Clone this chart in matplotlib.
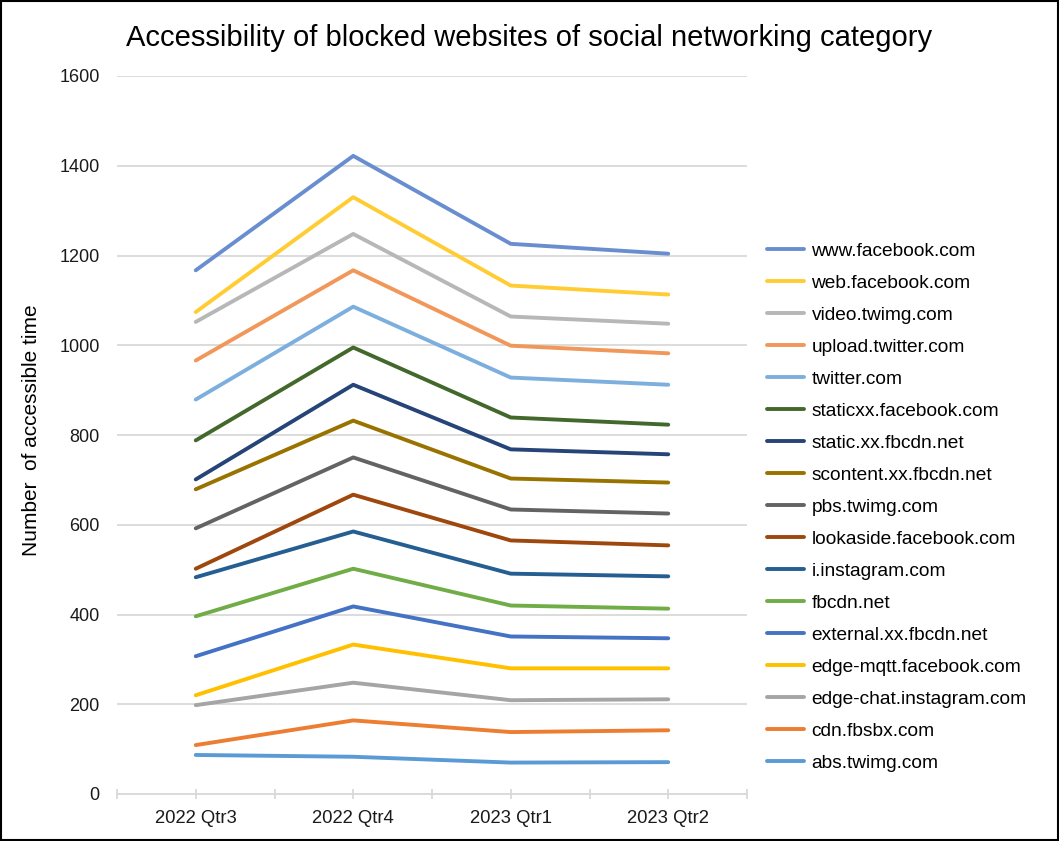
import matplotlib
matplotlib.use('Agg')
import matplotlib.pyplot as plt
from matplotlib.patches import Rectangle

plt.rcParams['font.family'] = ['Liberation Sans', 'DejaVu Sans']

quarters = ['2022 Qtr3', '2022 Qtr4', '2023 Qtr1', '2023 Qtr2']

sites = [
    'www.facebook.com', 'web.facebook.com', 'video.twimg.com', 'upload.twitter.com',
    'twitter.com', 'staticxx.facebook.com', 'static.xx.fbcdn.net', 'scontent.xx.fbcdn.net',
    'pbs.twimg.com', 'lookaside.facebook.com', 'i.instagram.com', 'fbcdn.net',
    'external.xx.fbcdn.net', 'edge-mqtt.facebook.com', 'edge-chat.instagram.com',
    'cdn.fbsbx.com', 'abs.twimg.com',
]

www_facebook = [1167, 1422, 1226, 1204]
web_facebook = [1074, 1330, 1133, 1113]
video_twimg = [1052, 1248, 1064, 1048]
upload_twitter = [966, 1167, 999, 982]
twitter = [879, 1086, 928, 912]
staticxx_facebook = [788, 995, 839, 823]
static_xx_fbcdn = [701, 912, 768, 757]
scontent_xx_fbcdn = [679, 832, 703, 694]
pbs_twimg = [592, 750, 634, 625]
lookaside_facebook = [502, 667, 565, 554]
i_instagram = [483, 585, 491, 485]
fbcdn = [396, 502, 420, 413]
external_xx_fbcdn = [307, 418, 351, 347]
edge_mqtt_facebook = [220, 333, 280, 280]
edge_chat_instagram = [198, 248, 209, 211]
cdn_fbsbx = [109, 164, 138, 142]
abs_twimg = [87, 83, 70, 71]

values = [
    www_facebook, web_facebook, video_twimg, upload_twitter, twitter,
    staticxx_facebook, static_xx_fbcdn, scontent_xx_fbcdn, pbs_twimg,
    lookaside_facebook, i_instagram, fbcdn, external_xx_fbcdn,
    edge_mqtt_facebook, edge_chat_instagram, cdn_fbsbx, abs_twimg,
]

colors = [
    '#698ED0', '#FFCD33', '#B7B7B7', '#F1975A', '#7CAFDD', '#43682B',
    '#264478', '#997300', '#636363', '#9E480E', '#255E91', '#70AD47',
    '#4472C4', '#FFC000', '#A5A5A5', '#ED7D31', '#5B9BD5',
]

fig = plt.figure(figsize=(10.59, 8.41), dpi=100)
ax = fig.add_axes([117 / 1059, 47 / 841, 630 / 1059, 718 / 841])

x = list(range(len(quarters)))
for name, vals, col in zip(sites, values, colors):
    ax.plot(x, vals, color=col, lw=2.8, label=name,
            solid_capstyle='round', solid_joinstyle='round')

ax.set_xlim(-0.5, 3.5)
ax.set_ylim(0, 1600)
ax.set_yticks(range(0, 1601, 200))
ax.set_xticks(x)
ax.set_xticklabels(quarters)
ax.set_xticks([-0.5, 0.5, 1.5, 2.5, 3.5], minor=True)
ax.grid(axis='y', color='#D9D9D9', lw=1.3)
ax.set_axisbelow(True)

for s in ['top', 'right', 'left']:
    ax.spines[s].set_visible(False)
ax.spines['bottom'].set_color('#D9D9D9')
ax.spines['bottom'].set_linewidth(1.3)

ax.tick_params(axis='y', length=0, pad=12.5, labelsize=13, labelcolor='#1a1a1a')
ax.tick_params(axis='x', which='both', direction='inout', length=6.5, color='#D9D9D9',
               width=1.3, pad=8, labelsize=13.3, labelcolor='#1a1a1a')

fig.suptitle('Accessibility of blocked websites of social networking category',
             x=0.5, y=(841 - 38) / 841, va='center', fontsize=21)
fig.text(32 / 1059, (841 - 430) / 841, 'Number  of accessible time', rotation=90,
         ha='center', va='center', fontsize=15)

fig.legend(loc='center left', bbox_to_anchor=(767 / 1059, (841 - 507) / 841),
           bbox_transform=fig.transFigure, frameon=False, fontsize=13.8,
           handlelength=1.95, handletextpad=0.37, labelspacing=0.76,
           borderpad=0, borderaxespad=0)

fig.patches.append(Rectangle((0.001, 0.001), 0.998, 0.998, transform=fig.transFigure,
                             fill=False, ec='black', lw=1.5))

fig.savefig('out.png', dpi=100)
